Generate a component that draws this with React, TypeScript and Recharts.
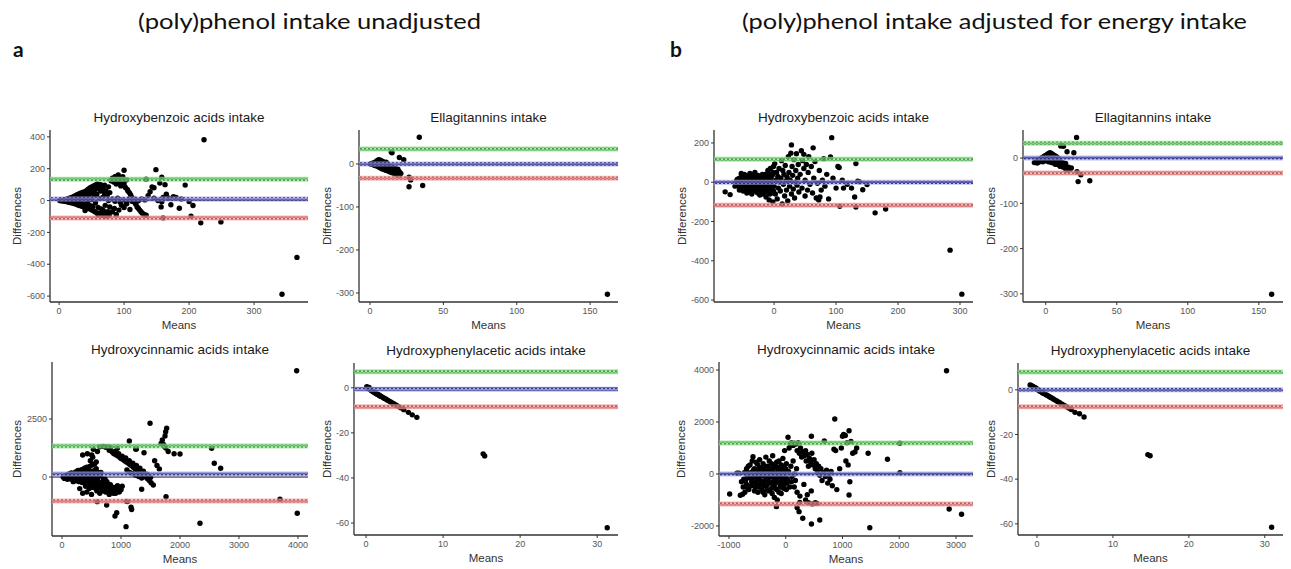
import React from 'react';
import { ScatterChart, Scatter, XAxis, YAxis, ReferenceLine } from 'recharts';

type Pt = [number, number];

// ---------- headers ----------
const headerLeft = '(poly)phenol intake unadjusted';
const headerRight = '(poly)phenol intake adjusted for energy intake';
const panelLetters = ['a', 'b'];
const panelTitles = [
  'Hydroxybenzoic acids intake',
  'Ellagitannins intake',
  'Hydroxycinnamic acids intake',
  'Hydroxyphenylacetic acids intake',
  'Hydroxybenzoic acids intake',
  'Ellagitannins intake',
  'Hydroxycinnamic acids intake',
  'Hydroxyphenylacetic acids intake',
];
const xAxisLabel = 'Means';
const yAxisLabel = 'Differences';

// ---------- limits [upper LoA, mean difference, lower LoA] ----------
const hbaUnadjLimits = [134, 10, -110];
const etUnadjLimits = [35, 0, -33];
const hcaUnadjLimits = [1336, 130, -1034];
const hpaUnadjLimits = [7.1, -0.6, -8.4];
const hbaAdjLimits = [117, 0, -117];
const etAdjLimits = [33, 0, -33];
const hcaAdjLimits = [1192, 0, -1154];
const hpaAdjLimits = [8, 0, -7.6];

// ---------- axis domains / ticks ----------
const hbaUnadjX = [-14, 383]; const hbaUnadjXTicks = [0, 100, 200, 300];
const hbaUnadjY = [-637, 443]; const hbaUnadjYTicks = [-600, -400, -200, 0, 200, 400];
const etUnadjX = [-7.5, 169]; const etUnadjXTicks = [0, 50, 100, 150];
const etUnadjY = [-321, 79]; const etUnadjYTicks = [-300, -200, -100, 0];
const hcaUnadjX = [-170, 4170]; const hcaUnadjXTicks = [0, 1000, 2000, 3000, 4000];
const hcaUnadjY = [-2543, 4957]; const hcaUnadjYTicks = [0, 2500];
const hpaUnadjX = [-1.56, 32.7]; const hpaUnadjXTicks = [0, 10, 20, 30];
const hpaUnadjY = [-65.3, 11]; const hpaUnadjYTicks = [-60, -40, -20, 0];
const hbaAdjX = [-97, 321]; const hbaAdjXTicks = [0, 100, 200, 300];
const hbaAdjY = [-610, 266]; const hbaAdjYTicks = [-600, -400, -200, 0, 200];
const etAdjX = [-16, 167]; const etAdjXTicks = [0, 50, 100, 150];
const etAdjY = [-318, 62]; const etAdjYTicks = [-300, -200, -100, 0];
const hcaAdjX = [-1176, 3300]; const hcaAdjXTicks = [-1000, 0, 1000, 2000, 3000];
const hcaAdjY = [-2385, 4308]; const hcaAdjYTicks = [-2000, 0, 2000, 4000];
const hpaAdjX = [-2.5, 32.4]; const hpaAdjXTicks = [0, 10, 20, 30];
const hpaAdjY = [-65, 12]; const hpaAdjYTicks = [-60, -40, -20, 0];

// ---------- points [mean, difference] ----------
const hbaUnadjPoints: Pt[] = [
  [1,0],[2,1],[3,-1],[4,2],[5,-2],[6,3],[7,-3],[8,5],[9,-4],[10,7],[10,-2],[11,-6],[12,9],[12,2],[13,-8],[14,12],[15,-10],[15,4],[16,14],[17,-12],[18,17],[18,-3],[19,-14],[20,20],[20,6],
  [21,-16],[22,24],[22,-6],[23,10],[24,28],[24,-20],[25,-10],[26,32],[26,14],[27,-24],[28,36],[28,0],[29,-28],[30,40],[30,18],[31,-14],[32,44],[32,-32],[33,24],[34,6],[34,48],[35,-36],[36,30],[36,-20],[37,52],[38,10],[38,-40],[39,36],[40,56],[40,-26],[40,-62],
  [41,16],[42,62],[42,-44],[43,40],[44,-8],[44,68],[45,-50],[46,24],[46,74],[47,-30],[48,48],[48,80],[49,-56],[50,6],[50,86],[51,56],[52,-62],[52,-36],[53,92],[54,30],[54,64],[55,-70],[56,98],[56,-14],[57,72],[58,-76],[58,40],[59,104],[60,-90],[60,-44],[61,80],
  [62,92],[62,12],[63,-80],[64,60],[64,100],[65,-52],[66,-92],[66,84],[67,20],[68,70],[68,-62],[69,-96],[70,44],[70,96],[71,-30],[72,60],[72,-84],[73,-98],[74,30],[75,-70],[76,86],[76,0],[77,-92],[78,50],[78,-40],
  [80,124],[82,140],[84,116],[85,134],[86,150],[88,104],[90,126],[91,160],[92,110],[94,140],[95,92],[97,120],[98,150],[100,190],[100,106],[102,82],[104,130],[105,70],
  [106,60],[108,50],[110,36],[112,20],[114,6],[116,-10],[118,-24],[120,-40],[122,-50],[124,-60],[126,-70],[128,-80],[131,-88],[134,-92],
  [82,10],[86,-4],[90,14],[94,-10],[98,6],[103,-6],[108,12],[112,-4],[117,8],[122,-2],[127,10],[132,4],
  [82,-70],[85,-50],[88,-88],[92,-60],[96,-30],[100,-44],[104,-20],[109,-56],
  [134,134],[137,30],[140,56],[143,86],[146,80],[146,14],[149,194],[152,0],[155,110],[157,-40],[158,147],[158,-8],[160,-109],[160,20],[163,100],[165,40],[169,15],[172,-26],[176,24],[180,20],[185,-48],[188,10],[194,97],[200,-6],[203,-99],[206,-31],[218,-140],[223,382],[249,-134],[343,-588],[366,-357],
];

const etUnadjPoints: Pt[] = [
  [0.5,0],[1,1],[1.5,-1],[2,2],[2.5,-2],[3,3],[3,-3],[3.5,0],[4,5],[4,-4],[4.5,1],[5,8],[5,-5],[5.5,-2],[6,10],[6,4],[6,-7],[6.5,-1],[7,9],[7,-9],[7.5,3],[8,7],[8,-4],[8,-11],[8.5,0],[9,5],[9,-8],[9.5,-13],[10,2],[10,-3],[10.5,-10],[11,4],[11,-15],[11.5,-6],[12,0],[12,-12],[12.5,-17],[13,-4],[13,-9],[14,-14],[14,-19],[14.5,28],[15,-7],[15,26],[15.5,-21],[16,-12],[16,-17],[17,-22],[17,-10],[18,-15],[18,-25],[19,-20],[19,-12],[20,15],[20,-18],[20,-26],[21,-22],[23,10],[26.6,-31],[26.6,-53],[27.7,-37],[33.6,62],[35.9,-50],[161.8,-303],
];

const hcaUnadjPoints: Pt[] = [
  [20,0],[50,30],[60,-40],[80,80],[100,-20],[110,120],[130,-80],[150,40],[160,180],[180,-120],[200,100],[210,-30],[230,220],[240,-160],[260,60],[270,280],[290,-200],[300,150],[310,-60],[330,320],[340,-240],[350,200],[360,20],[380,380],[390,-280],[400,250],[410,-120],[420,420],[430,-320],[440,100],[450,300],[460,-200],[470,460],[480,-380],[490,180],[500,-40],[510,520],[520,-440],[530,260],[540,-260],[550,560],[560,80],[570,-500],[580,360],[590,-600],[600,-120],[610,200],[620,-380],[640,-700],[650,40],[660,-250],[680,-560],[700,-100],[720,-420],[740,-650],[760,-200],[780,-520],[800,-750],[820,-330],[850,-600],[880,-450],[910,-700],[940,-380],[960,-560],[990,-480],
  [40,-60],[70,60],[90,-100],[120,40],[140,150],[170,-40],[190,-200],[220,60],[250,-100],[280,120],[320,-150],[340,60],[370,-60],[400,-400],[420,150],[450,-100],[480,50],[510,-250],[540,150],[570,-100],[600,-300],[620,50],[640,-450],[660,200],[690,-300],[710,-600],[730,-100],[750,-450],[780,-300],[810,-600],[840,-450],[870,-700],[900,-550],[930,-450],[970,-650],[1000,-550],[1020,-400],
  [300,-500],[350,-700],[420,-650],[500,-750],[560,-300],[460,-500],
  [350,948],[430,1000],[503,948],[531,1193],[600,1100],[580,650],[480,700],[520,850],
  [640,1300],[700,1320],[740,1280],[780,1300],[820,1260],
  [800,1150],[850,1080],[880,1000],[920,950],[950,900],[980,850],[1000,800],[1030,760],[1060,700],[1090,650],[1120,600],[1150,540],[1180,480],[1210,420],[1240,360],[1270,300],[1300,240],[1330,180],[1360,120],[1390,60],[1420,0],[1450,-80],[1480,-150],[1510,-250],[1547,-345],
  [900,1100],[960,1000],[1020,900],[1080,820],[1140,700],[1200,600],[1260,500],[1320,380],[1380,250],[1440,120],[1500,-20],
  [1100,300],[1150,200],[1200,150],[1250,80],[1300,20],[1350,-40],
  [938,1237],[1141,1552],[1250,1200],[1260,1210],[1390,1047],[1350,-530],[1085,-2141],[927,-1538],[898,-1681],[757,-1207],[598,-1063],[1090,-1050],[1110,-1060],[1170,-1300],[1180,-1400],[1492,2314],[1570,700],[1610,500],[1650,350],[1680,1450],[1700,1600],[1720,1400],[1740,1300],[1746,1767],[1757,1955],[1774,2100],[1760,1250],[1800,1100],[1763,-847],[1900,1000],[2000,991],[2339,-1996],[2537,1236],[2581,590],[2689,375],[3695,-961],[3978,4582],[3988,-1565],
];

const hpaUnadjPoints: Pt[] = [
  [0.1,0.5],[0.2,0.2],[0.3,-0.3],[0.4,0.1],[0.5,-0.8],[0.6,-0.9],[0.7,-1.2],[0.8,-1.4],[0.9,-1.6],[1.0,-1.9],[1.1,-2.1],[1.2,-2.3],[1.3,-2.5],[1.4,-2.7],[1.5,-2.9],[1.6,-3.1],[1.7,-3.3],[1.8,-3.5],[1.9,-3.7],[2.0,-3.9],[2.2,-4.3],[2.4,-4.7],[2.6,-5.1],[2.8,-5.5],[3.0,-5.9],[3.2,-6.3],[3.4,-6.7],[3.6,-7.1],[3.8,-7.5],[4.0,-7.9],[4.2,-8.3],[4.5,-8.9],[4.9,-9.7],[5.5,-10.9],[6.0,-12.0],[6.6,-13.1],[15.2,-29.3],[15.4,-30.2],[31.3,-62.1],
];

const hbaAdjPoints: Pt[] = [
  [-79,-49],[-71,-63],[-63,-20],[-60,10],[-58,-5],[-56,20],[-55,-30],[-54,0],[-52,30],[-51,-15],[-50,-45],[-49,10],[-48,40],[-47,-25],[-46,-5],[-45,20],[-44,-55],[-43,5],[-42,-35],[-41,30],[-40,-10],[-39,45],[-38,-20],[-37,10],[-36,-60],[-35,-5],[-34,25],[-33,-40],[-32,0],[-31,50],[-30,-15],[-29,15],[-28,-50],[-27,-30],[-26,35],[-25,5],[-24,-10],[-23,-65],[-22,20],[-21,-35],[-20,-5],[-19,40],[-18,-20],[-17,10],[-16,-45],[-15,-5],[-14,25],[-13,-75],[-12,-15],[-11,5],[-10,60],[-9,-30],[-8,-90],[-7,15],[-6,70],[-5,-10],[-4,-55],[-3,35],[-2,-100],[-1,80],
  [-62,0],[-61,-12],[-59,15],[-57,-18],[-56,-40],[-55,8],[-53,-8],[-53,45],[-52,-25],[-50,25],[-49,-35],[-48,-12],[-47,15],[-46,35],[-45,-20],[-44,0],[-43,-45],[-42,15],[-41,-8],[-40,25],[-39,-30],[-38,5],[-37,-50],[-36,35],[-35,15],[-34,-15],[-33,10],[-32,-25],[-31,30],[-30,-45],[-29,0],[-28,20],[-27,-10],[-26,-55],[-25,30],[-24,15],[-23,-25],[-22,-45],[-21,5],[-20,30],[-19,-15],[-18,-60],[-17,-30],[-16,15],[-15,40],[-14,-30],[-13,0],[-12,-50],[-11,25],[-10,-20],[-9,10],[-8,40],[-7,-60],[-6,-35],[-5,20],[-4,0],[-3,-25],[-2,50],[-1,-45],
  [0,-20],[1,95],[2,-60],[3,10],[4,50],[5,-85],[6,30],[7,-30],[8,70],[9,0],[10,-45],[11,20],[12,110],[13,-110],[14,60],[15,-10],[16,40],[17,-70],[18,85],[19,5],[20,-40],[21,25],[22,-95],[23,130],[24,50],[25,-20],[26,10],[27,148],[28,190],[28,-60],[29,80],[30,35],[31,-35],[32,115],[33,-80],[34,0],[35,60],[36,145],[37,-15],[38,20],[39,90],[40,-50],[42,40],[44,160],[45,-30],[46,110],[48,142],[48,70],[50,-70],[50,10],[52,90],[54,-40],[55,50],[56,130],[58,-10],[60,80],[62,-55],[63,175],[64,20],[66,105],[68,-80],[70,-5],[72,-90],[73,60],[74,-75],[76,-40],[78,10],[80,120],[82,-20],[85,40],[88,-85],[91,129],[93,227],[95,20],[100,-30],[103,80],[105,75],[106,-122],[110,10],[112,-30],[118,-10],[125,-30],[130,-75],[132,95],[132,-126],[135,5],[138,2],[143,-38],[150,-12],[163,-156],[180,-136],[284,-346],[303,-570],
];

const etAdjPoints: Pt[] = [
  [-8,-10],[-7,-8],[-6,-6],[-6,-11],[-5,-4],[-5,-9],[-4,-2],[-4,-7],[-3,0],[-3,-5],[-2,2],[-2,-8],[-1,4],[-1,-3],[0,6],[0,0],[0,-6],[1,8],[1,2],[1,-4],[2,10],[2,5],[2,-2],[2,-8],[3,12],[3,6],[3,0],[3,-6],[4,10],[4,4],[4,-3],[4,-10],[5,8],[5,2],[5,-6],[6,6],[6,-1],[6,-12],[7,4],[7,-4],[7,-14],[8,2],[8,-8],[9,-1],[9,-14],[10,-5],[10,-18],[10.6,26.5],[11,28],[12,-10],[12,-20],[12.5,26],[13,-15],[14,-24],[14,-12],[15,14],[15,-27],[16,-20],[17,-26],[18,-22],[19.8,11.7],[21.7,45.7],[22,-30],[22.8,-52],[24.7,-37],[31,-50],[159,-301],
];

const hcaAdjPoints: Pt[] = [
  [-988,-769],[-860,30],[-824,27],[-800,-820],[-760,-780],[-740,-200],[-720,-700],[-700,100],[-690,-400],[-680,-50],[-660,300],[-650,-600],[-640,-150],[-620,50],[-600,-300],[-590,500],[-577,665],[-560,-100],[-550,200],[-540,-500],[-520,0],[-510,-250],[-500,380],[-490,-700],[-480,100],[-470,-150],[-460,550],[-450,-400],[-440,20],[-430,250],[-420,-600],[-410,-50],[-400,400],[-390,-300],[-380,150],[-370,-800],[-360,-100],[-350,650],[-340,-450],[-330,50],[-320,300],[-310,-200],[-300,-650],[-290,500],[-280,-30],[-270,-350],[-260,200],[-250,-550],[-240,-100],[-230,700],[-220,100],[-210,-400],[-200,-900],[-190,350],[-180,-200],[-170,0],[-164,-1256],[-160,-600],[-150,-1000],[-140,250],[-130,-300],[-120,500],[-110,-100],[-100,-500],[-90,150],[-80,-750],[-70,-50],[-60,300],[-50,-250],[-40,50],[-30,-450],[-20,900],[-10,-150],[0,200],[10,-600],[20,-350],[41,1411],
  [-780,-300],[-750,-500],[-730,50],[-710,-250],[-690,200],[-670,-550],[-650,-50],[-630,350],[-610,-450],[-590,-150],[-570,150],[-550,-650],[-530,-350],[-520,450],[-500,-100],[-480,-500],[-460,250],[-440,-250],[-420,50],[-400,-700],[-380,-450],[-370,300],[-350,-200],[-330,-600],[-320,100],[-300,-350],[-290,150],[-270,-100],[-250,400],[-240,-750],[-230,-300],[-210,0],[-200,250],[-190,-550],[-170,-350],[-160,450],[-150,-150],[-130,100],[-120,-700],[-100,-50],[-90,-350],[-80,350],[-60,-150],[-50,600],[-40,-550],[-30,150],[-20,-300],[0,-100],[10,400],[30,-200],[50,100],[70,-500],[90,300],[110,-100],[130,500],[150,0],[170,-250],[190,200],
  [60,1000],[80,1150],[100,1200],[130,1100],[150,1180],[180,1150],[200,900],[220,1200],[240,800],[260,1000],[280,650],[300,850],[320,-400],[330,700],[350,900],[360,500],[380,750],[400,300],[420,600],[440,450],[452,1450],[460,800],[480,350],[500,550],[520,200],[540,400],[560,100],[580,300],[600,-50],[620,200],[640,-250],[660,50],[680,1270],[700,-100],[720,150],[740,-350],[760,-50],[780,-200],[800,100],[820,-450],[850,950],[864,2115],[880,900],[900,-600],[950,200],[980,1000],[1000,1450],[1020,1520],[1050,1480],[1060,500],[1080,1200],[1100,350],[1116,1665],[1116,-808],[1130,-300],[1150,1250],[1180,800],[1220,850],[1250,1000],
  [100,-300],[150,-500],[200,-700],[250,-850],[200,-1300],[235,-1449],[247,-1090],[300,-1700],[350,-1000],[400,-1100],[453,-1923],[470,-1150],[520,-1100],[550,-1130],[600,-1770],[380,-800],[450,-650],
  [1452,800],[1481,-2065],[1793,565],[2011,1180],[2011,48],[2834,3973],[2880,-1346],[3098,-1551],
];

const hpaAdjPoints: Pt[] = [
  [-0.9,2.2],[-0.8,1.9],[-0.7,1.7],[-0.6,1.6],[-0.5,1.4],[-0.4,1.1],[-0.3,1.0],[-0.2,0.8],[-0.1,0.5],[0,0.4],[0.1,0.1],[0.2,-0.1],[0.3,-0.4],[0.4,-0.6],[0.5,-0.7],[0.6,-1.0],[0.7,-1.2],[0.8,-1.4],[0.9,-1.6],[1.0,-1.8],[1.2,-2.2],[1.4,-2.6],[1.6,-3.0],[1.8,-3.4],[2.0,-3.8],[2.2,-4.2],[2.4,-4.6],[2.6,-5.0],[2.8,-5.4],[3.0,-5.8],[3.3,-6.4],[3.6,-7.0],[3.9,-7.6],[4.2,-8.2],[4.5,-8.8],[5.0,-10.1],[5.6,-10.7],[6.2,-12.2],[14.6,-29.0],[14.9,-29.5],[30.9,-61.5],
];

// ---------- layout (plot boxes in page px) ----------
interface PanelSpec {
  title: string;
  points: Pt[];
  limits: number[];
  xDomain: number[];
  xTicks: number[];
  yDomain: number[];
  yTicks: number[];
  box: [number, number, number, number];
  labelOffset: number;
}

const panels: PanelSpec[] = [
  { title: panelTitles[0], points: hbaUnadjPoints, limits: hbaUnadjLimits, xDomain: hbaUnadjX, xTicks: hbaUnadjXTicks, yDomain: hbaUnadjY, yTicks: hbaUnadjYTicks, box: [50, 130, 308, 302], labelOffset: 33 },
  { title: panelTitles[1], points: etUnadjPoints, limits: etUnadjLimits, xDomain: etUnadjX, xTicks: etUnadjXTicks, yDomain: etUnadjY, yTicks: etUnadjYTicks, box: [359, 130, 618, 302], labelOffset: 32 },
  { title: panelTitles[2], points: hcaUnadjPoints, limits: hcaUnadjLimits, xDomain: hcaUnadjX, xTicks: hcaUnadjXTicks, yDomain: hcaUnadjY, yTicks: hcaUnadjYTicks, box: [52, 362, 308, 536], labelOffset: 35 },
  { title: panelTitles[3], points: hpaUnadjPoints, limits: hpaUnadjLimits, xDomain: hpaUnadjX, xTicks: hpaUnadjXTicks, yDomain: hpaUnadjY, yTicks: hpaUnadjYTicks, box: [354, 363, 618, 535], labelOffset: 27 },
  { title: panelTitles[4], points: hbaAdjPoints, limits: hbaAdjLimits, xDomain: hbaAdjX, xTicks: hbaAdjXTicks, yDomain: hbaAdjY, yTicks: hbaAdjYTicks, box: [714, 130, 973, 302], labelOffset: 32 },
  { title: panelTitles[5], points: etAdjPoints, limits: etAdjLimits, xDomain: etAdjX, xTicks: etAdjXTicks, yDomain: etAdjY, yTicks: etAdjYTicks, box: [1023, 130, 1283, 302], labelOffset: 32 },
  { title: panelTitles[6], points: hcaAdjPoints, limits: hcaAdjLimits, xDomain: hcaAdjX, xTicks: hcaAdjXTicks, yDomain: hcaAdjY, yTicks: hcaAdjYTicks, box: [719, 362, 973, 536], labelOffset: 38 },
  { title: panelTitles[7], points: hpaAdjPoints, limits: hpaAdjLimits, xDomain: hpaAdjX, xTicks: hpaAdjXTicks, yDomain: hpaAdjY, yTicks: hpaAdjYTicks, box: [1018, 363, 1283, 535], labelOffset: 27 },
];

const FONT = '"Liberation Sans", Arial, Helvetica, sans-serif';
const LINE_STYLES = [
  { band: '#93e693', mark: 'url(#xGreen)' },
  { band: '#aaaae8', mark: 'url(#xBlue)' },
  { band: '#f2a4a4', mark: 'url(#xRed)' },
];

const Dot = (props: any) => {
  if (props.cx == null || props.cy == null) return <g />;
  return <circle cx={props.cx} cy={props.cy} r={2.7} fill="#000" />;
};

const YW = 44;
const XH = 30;
const MT = 4;
const MR = 4;

function Panel({ spec }: { spec: PanelSpec }) {
  const [x0, y0, x1, y1] = spec.box;
  const data = spec.points.map(([x, y]) => ({ x, y }));
  const tick = { fill: '#555', fontSize: 9, fontFamily: FONT };
  return (
    <div style={{ position: 'absolute', left: x0 - YW, top: y0 - MT }}>
      <ScatterChart
        width={x1 - x0 + YW + MR}
        height={y1 - y0 + MT + XH}
        margin={{ top: MT, right: MR, bottom: 0, left: 0 }}
      >
        <XAxis
          type="number"
          dataKey="x"
          domain={spec.xDomain as any}
          ticks={spec.xTicks}
          allowDataOverflow
          height={XH}
          tick={tick}
          tickSize={3}
          tickMargin={3}
          tickLine={{ stroke: '#333' }}
          axisLine={{ stroke: '#333', strokeWidth: 1.3 }}
          interval={0}
        />
        <YAxis
          type="number"
          dataKey="y"
          domain={spec.yDomain as any}
          ticks={spec.yTicks}
          allowDataOverflow
          width={YW}
          tick={tick}
          tickSize={3}
          tickMargin={2}
          tickLine={{ stroke: '#333' }}
          axisLine={{ stroke: '#333', strokeWidth: 1.3 }}
          interval={0}
        />
        <ReferenceLine y={0} stroke="#000" strokeWidth={1} />
        <Scatter data={data} isAnimationActive={false} shape={Dot} />
        {spec.limits.map((v, i) => (
          <ReferenceLine
            key={'b' + i}
            y={v}
            stroke={LINE_STYLES[i].band}
            strokeOpacity={0.75}
            strokeWidth={5}
            zIndex={700}
          />
        ))}
        {spec.limits.map((v, i) => (
          <ReferenceLine
            key={'m' + i}
            y={v}
            stroke={LINE_STYLES[i].mark}
            strokeWidth={3.5}
            zIndex={710}
          />
        ))}
      </ScatterChart>
    </div>
  );
}

export default function App() {
  return (
    <div style={{ position: 'absolute', left: 0, top: 0, width: 1291, height: 569, background: '#fff', overflow: 'hidden' }}>
      <svg width={1291} height={569} style={{ position: 'absolute', left: 0, top: 0 }}>
        <defs>
          <pattern id="xGreen" width={4} height={3.5} patternUnits="userSpaceOnUse">
            <path d="M0.5,0 L3.5,3.5 M0.5,3.5 L3.5,0" stroke="#2f8f2f" strokeWidth={0.8} />
          </pattern>
          <pattern id="xBlue" width={4} height={3.5} patternUnits="userSpaceOnUse">
            <path d="M0.5,0 L3.5,3.5 M0.5,3.5 L3.5,0" stroke="#1e1e86" strokeWidth={0.9} />
          </pattern>
          <pattern id="xRed" width={4} height={3.5} patternUnits="userSpaceOnUse">
            <path d="M0.5,0 L3.5,3.5 M0.5,3.5 L3.5,0" stroke="#b83c3c" strokeWidth={0.8} />
          </pattern>
        </defs>
      </svg>
      {panels.map((p, i) => (
        <Panel key={i} spec={p} />
      ))}
      <svg width={1291} height={569} style={{ position: 'absolute', left: 0, top: 0, pointerEvents: 'none' }}>
        <text x={138} y={29} fontFamily="Lato, 'Open Sans', sans-serif" fontSize={22} fill="#111" textLength={343} lengthAdjust="spacingAndGlyphs">{headerLeft}</text>
        <text x={742} y={29} fontFamily="Lato, 'Open Sans', sans-serif" fontSize={22} fill="#111" textLength={505} lengthAdjust="spacingAndGlyphs">{headerRight}</text>
        <text x={13} y={57} fontFamily="Lato, 'Open Sans', sans-serif" fontWeight="bold" fontSize={21} fill="#111">{panelLetters[0]}</text>
        <text x={670} y={57} fontFamily="Lato, 'Open Sans', sans-serif" fontWeight="bold" fontSize={21} fill="#111">{panelLetters[1]}</text>
        {panels.map((p, i) => {
          const [x0, y0, x1, y1] = p.box;
          const cx = (x0 + x1) / 2;
          const cy = (y0 + y1) / 2;
          const lx = x0 - p.labelOffset;
          return (
            <g key={i} fontFamily={FONT}>
              <text x={cx} y={y0 - 8} textAnchor="middle" fontSize={13.5} fill="#1a1a1a">{p.title}</text>
              <text x={cx} y={y1 + 27} textAnchor="middle" fontSize={11.5} fill="#333">{xAxisLabel}</text>
              <text x={lx + 4} y={cy} textAnchor="middle" fontSize={11.5} fill="#333" transform={`rotate(-90 ${lx + 4} ${cy})`}>{yAxisLabel}</text>
            </g>
          );
        })}
      </svg>
    </div>
  );
}
